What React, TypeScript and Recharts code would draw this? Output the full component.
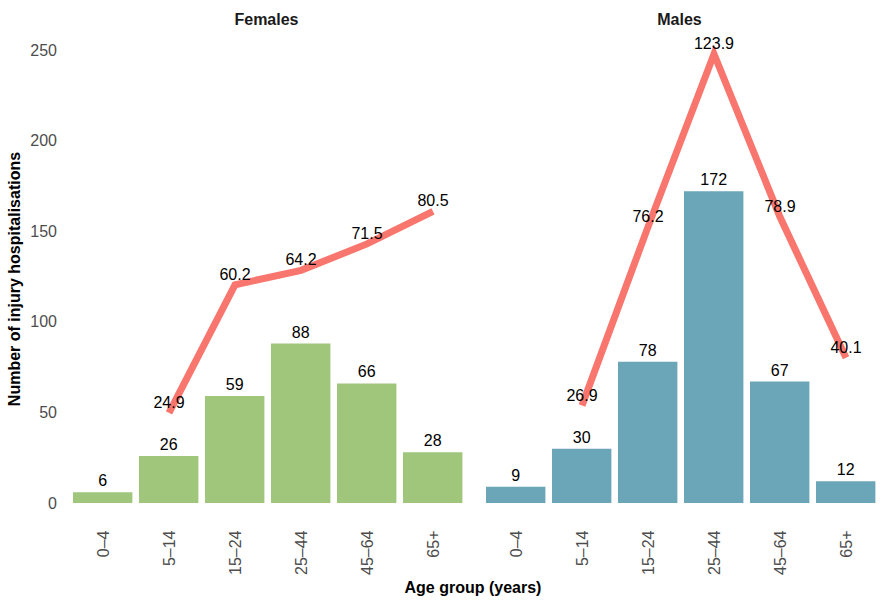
import React from 'react';
import { ComposedChart, Bar, Line, XAxis, YAxis, LabelList } from 'recharts';

const ageGroups = ['0–4', '5–14', '15–24', '25–44', '45–64', '65+'];
const femaleCounts = [6, 26, 59, 88, 66, 28];
const maleCounts = [9, 30, 78, 172, 67, 12];
// rates per 100,000 — no rate published for 0–4
const femaleRates = [null, 24.9, 60.2, 64.2, 71.5, 80.5];
const maleRates = [null, 26.9, 76.2, 123.9, 78.9, 40.1];
const yTicks = [0, 50, 100, 150, 200, 250];

// rates share the count axis at double scale
const RATE_SCALE = 2;
const FONT = '"Liberation Sans", Arial, sans-serif';
const LINE_COLOR = '#F8766D';

const buildRows = (counts: number[], rates: (number | null)[]) =>
  ageGroups.map((age, i) => ({
    age,
    count: counts[i],
    rate: rates[i],
    rateScaled: rates[i] == null ? null : (rates[i] as number) * RATE_SCALE,
  }));

const femaleData = buildRows(femaleCounts, femaleRates);
const maleData = buildRows(maleCounts, maleRates);

const AgeTick = (props: any) => {
  const { x, y, payload } = props;
  return (
    <text
      x={x}
      y={y}
      transform={`rotate(-90, ${x}, ${y})`}
      textAnchor="end"
      dominantBaseline="central"
      fill="#4D4D4D"
      fontSize={16}
      fontFamily={FONT}
    >
      {payload.value}
    </text>
  );
};

const Panel = ({ data, color, showY, width }: { data: any[]; color: string; showY: boolean; width: number }) => (
  <ComposedChart width={width} height={600} data={data} margin={{ top: 31.5, right: 0, bottom: 0, left: 0 }}>
    <XAxis
      dataKey="age"
      height={74.5}
      axisLine={false}
      tickLine={false}
      tickSize={0}
      tickMargin={5}
      interval={0}
      padding={{ left: 8, right: 5 }}
      tick={<AgeTick />}
    />
    <YAxis
      hide={!showY}
      width={62}
      domain={[-12.39, 260.19]}
      ticks={yTicks}
      allowDataOverflow
      axisLine={false}
      tickLine={false}
      tickSize={0}
      tickMargin={5}
      tick={{ fill: '#4D4D4D', fontSize: 16, fontFamily: FONT }}
    />
    <Bar dataKey="count" fill={color} barSize={59.4} isAnimationActive={false}>
      <LabelList dataKey="count" position="top" offset={6} fill="#000" fontSize={16} fontFamily={FONT} />
    </Bar>
    <Line
      dataKey="rateScaled"
      stroke={LINE_COLOR}
      strokeWidth={7}
      dot={false}
      activeDot={false}
      isAnimationActive={false}
    >
      <LabelList dataKey="rate" position="top" offset={5} fill="#000" fontSize={16} fontFamily={FONT} />
    </Line>
  </ComposedChart>
);

const boldText: React.CSSProperties = {
  position: 'absolute',
  fontFamily: FONT,
  fontWeight: 'bold',
  fontSize: 16,
  color: '#1A1A1A',
  whiteSpace: 'nowrap',
};

export default function App() {
  return (
    <div style={{ position: 'absolute', left: 0, top: 0, width: 890, height: 600, background: '#fff' }}>
      <div style={{ position: 'absolute', left: 0, top: 0 }}>
        <Panel data={femaleData} color="#A0C67C" showY width={471} />
      </div>
      <div style={{ position: 'absolute', left: 475, top: 0 }}>
        <Panel data={maleData} color="#6BA5B8" showY={false} width={409} />
      </div>
      <div style={{ ...boldText, left: 62, width: 409, top: 11, textAlign: 'center' }}>Females</div>
      <div style={{ ...boldText, left: 475, width: 409, top: 11, textAlign: 'center' }}>Males</div>
      <div style={{ ...boldText, color: '#000', left: 62, width: 822, top: 579, textAlign: 'center' }}>Age group (years)</div>
      <div
        style={{
          ...boldText,
          color: '#000',
          left: 15,
          top: 278.5,
          transform: 'translate(-50%, -50%) rotate(-90deg)',
        }}
      >
        Number of injury hospitalisations
      </div>
    </div>
  );
}
